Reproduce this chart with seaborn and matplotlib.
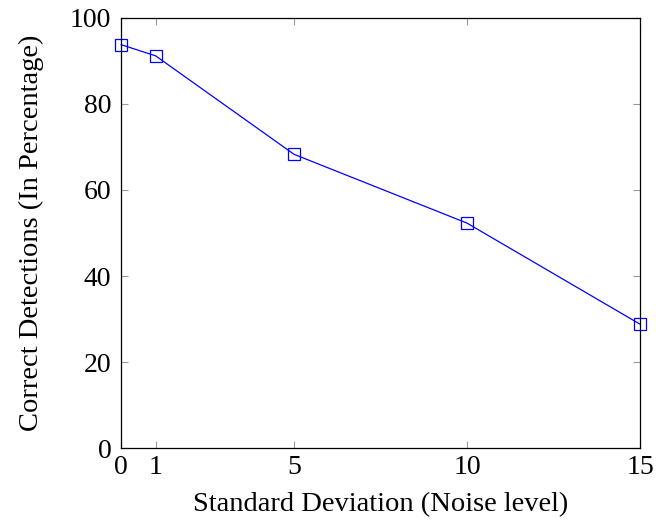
import matplotlib
matplotlib.use("Agg")
import matplotlib.pyplot as plt
import seaborn as sns
import pandas as pd

# ------------------------------------------------------------
# Data
# ------------------------------------------------------------
noise_levels = [0, 1, 5, 10, 15]
correct_pct = [93.8, 91.2, 68.3, 52.3, 28.8]
x_ticks = [0, 1, 5, 10, 15]
y_ticks = [0, 20, 40, 60, 80, 100]

df = pd.DataFrame({"noise": noise_levels, "correct": correct_pct})

# ------------------------------------------------------------
# Style
# ------------------------------------------------------------
sns.set_theme(style="ticks")
plt.rcParams["font.family"] = ["Liberation Serif", "DejaVu Serif"]
plt.rcParams["text.color"] = "black"
plt.rcParams["axes.labelcolor"] = "black"
plt.rcParams["xtick.labelcolor"] = "black"
plt.rcParams["ytick.labelcolor"] = "black"

fig = plt.figure(figsize=(6.56, 5.29), dpi=100)
ax = fig.add_axes([0.1845, 0.1531, 0.7911, 0.8129])

sns.lineplot(data=df, x="noise", y="correct", ax=ax, color="blue",
             linewidth=0.9, marker="s", markersize=8.5,
             markerfacecolor="none", markeredgecolor="blue",
             markeredgewidth=0.9, clip_on=False)

ax.set_xlim(0, 15)
ax.set_ylim(0, 100)
ax.set_xticks(x_ticks)
ax.set_yticks(y_ticks)
ax.tick_params(direction="in", length=5, width=0.8, color="#999999",
               labelsize=20, top=True, right=True)
ax.tick_params(axis="x", pad=5)
ax.tick_params(axis="y", pad=7)
for s in ax.spines.values():
    s.set_color("black")
    s.set_linewidth(0.9)
    s.set_visible(True)

ax.set_xlabel("Standard Deviation (Noise level)", fontsize=20.5, labelpad=9)
ax.set_ylabel("Correct Detections (In Percentage)", fontsize=20.5, labelpad=19)

plt.savefig("out.png", dpi=100)
